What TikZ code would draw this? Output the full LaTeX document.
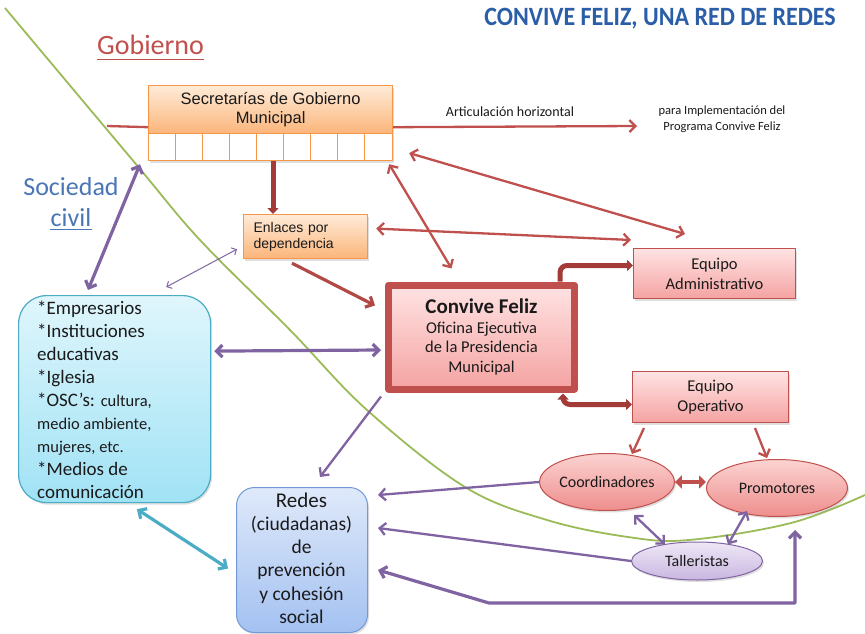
\documentclass[tikz,border=0pt]{standalone}
\usepackage{fontspec}
\setmainfont{Carlito}
\newfontfamily\arialf{Liberation Sans}
\usetikzlibrary{arrows.meta,shadows,shapes.geometric,calc}
\definecolor{cfred}{HTML}{C0504D}
\definecolor{dkred}{HTML}{A33B38}
\definecolor{orb}{HTML}{F79646}
\definecolor{ortop}{HTML}{FFEBD8}
\definecolor{orbot}{HTML}{FBB57A}
\definecolor{pktop}{HTML}{FFE3E3}
\definecolor{pkbot}{HTML}{F4A3A2}
\definecolor{elltop}{HTML}{FBD3D2}
\definecolor{ellbot}{HTML}{EE8E8C}
\definecolor{purp}{HTML}{8064A2}
\definecolor{lavtop}{HTML}{EFE8F7}
\definecolor{lavbot}{HTML}{C9B6E0}
\definecolor{tealc}{HTML}{4BACC6}
\definecolor{cytop}{HTML}{E0F6FC}
\definecolor{cybot}{HTML}{A0E2F5}
\definecolor{bltop}{HTML}{DFE9FA}
\definecolor{blbot}{HTML}{A3C1F1}
\definecolor{blb}{HTML}{7399D6}
\definecolor{grn}{HTML}{9BBB59}
\definecolor{titleblue}{HTML}{2B5EA8}
\definecolor{socblue}{HTML}{4A76B6}
\definecolor{txt}{HTML}{1A1A1A}
\begin{document}
\begin{tikzpicture}[x=1pt,y=-1pt,line join=round,
  >={Straight Barb[length=6pt,width=12pt]},
  shad/.style={drop shadow={opacity=0.25,shadow xshift=1.5pt,shadow yshift=-2pt}},
  orbox/.style={draw=orb,line width=1.2pt,top color=ortop,bottom color=orbot,inner sep=0pt,text=txt},
  pkbox/.style={draw=cfred,line width=1pt,top color=pktop,bottom color=pkbot,inner sep=0pt,align=center,text=txt,font=\fontsize{16.5}{20}\selectfont,shad},
  ellbox/.style={ellipse,draw=cfred,line width=1pt,top color=elltop,bottom color=ellbot,inner sep=0pt,text=txt,font=\fontsize{16}{19}\selectfont,shad},
  lavbox/.style={ellipse,draw=purp,line width=1pt,top color=lavtop,bottom color=lavbot,inner sep=0pt,text=txt,font=\fontsize{16}{19}\selectfont,shad},
  redl/.style={draw=cfred,line width=2.3pt},
  redk/.style={draw=cfred!92!black,line width=3.2pt},
  blk/.style={draw=dkred,line width=5pt},
  purl/.style={draw=purp,line width=2.3pt},
  purk/.style={draw=purp,line width=3.2pt}]
\useasboundingbox (0,0) rectangle (865,634);
\fill[white] (0,0) rectangle (865,634);

% green boundary curve
\draw[grn,line width=1.8pt] plot[smooth,tension=0.6] coordinates {(5,8) (135,163) (200,240) (290,330) (367,410) (465,487) (547,520) (628,537) (689,540) (791,523) (865,495)};

% titles
\node[font=\bfseries\fontsize{24}{28}\selectfont,text=titleblue,inner sep=0pt] (title) at (660,19) {\scalebox{1}[1.1]{CONVIVE FELIZ, UNA RED DE REDES}};
\node[font=\fontsize{28}{32}\selectfont,text=cfred,anchor=base,inner sep=0pt] (gob) at (150.5,55) {Gobierno};
\draw[cfred,line width=1.3pt] ([yshift=-4.5pt]gob.base west) -- ([yshift=-4.5pt]gob.base east);
\node[font=\fontsize{26}{30}\selectfont,text=socblue,anchor=base,inner sep=0pt] (soc1) at (71,195) {Sociedad};
\node[font=\fontsize{26}{30}\selectfont,text=socblue,anchor=base,inner sep=0pt] (soc2) at (71,226) {civil};
\draw[socblue,line width=1.3pt] ([yshift=-3.5pt]soc2.base west) -- ([yshift=-3.5pt]soc2.base east);

% Secretarias
\node[orbox,shad,minimum width=244pt,minimum height=75pt,anchor=north west] (secall) at (148,85) {};
\node[orbox,minimum width=244pt,minimum height=48pt,anchor=north west,align=center,font=\arialf\fontsize{16.5}{19.5}\selectfont] (sec) at (148,85) {Secretarías de Gobierno\\Municipal};
\node[draw=orb,line width=1.2pt,fill=white,minimum width=244pt,minimum height=27pt,anchor=north west,inner sep=0pt] (cells) at (148,133) {};
\foreach \i in {1,...,8} \draw[orb,line width=1.2pt] ($(cells.north west)+({\i*244/9},0)$) -- ++(0,27);

% horizontal articulation
\coordinate (hl) at (107,126);
\coordinate (hr) at (637,126);
\node[font=\fontsize{14}{16}\selectfont,text=txt] (art) at (510,112) {Articulación horizontal};
\node[font=\fontsize{12.5}{16}\selectfont,align=center,text=txt] (para) at (722,119) {para Implementación del\\Programa Convive Feliz};
\draw[redl] (hl) -- ($(sec.south west)+(0,-7)$);
\draw[redl,->] ($(sec.south east)+(0,-7)$) -- (hr);

% Enlaces
\node[orbox,shad,minimum width=124pt,minimum height=44pt,anchor=north west,align=left,font=\arialf\fontsize{14}{16}\selectfont,text width=104pt] (enl) at (243,214) {Enlaces por\\dependencia};

% Convive Feliz
\node[draw=cfred,line width=7pt,top color=pktop,bottom color=pkbot,minimum width=186pt,minimum height=104pt,inner sep=0pt,align=center,text=txt,font=\fontsize{16.5}{19.5}\selectfont,shad] (cf) at (481.5,337) {{\bfseries\fontsize{21}{24}\selectfont Convive Feliz}\\Oficina Ejecutiva\\de la Presidencia\\Municipal};

% Equipos
\node[pkbox,minimum width=162pt,minimum height=50pt,anchor=north west] (adm) at (633,248) {Equipo\\Administrativo};
\node[pkbox,minimum width=156pt,minimum height=51pt,anchor=north west] (op) at (632,371) {Equipo\\Operativo};

% ellipses
\node[ellbox,minimum width=131pt,minimum height=57pt] (co) at (607,482) {Coordinadores};
\node[ellbox,minimum width=141pt,minimum height=57pt] (pr) at (777,488) {Promotores};
\node[lavbox,minimum width=131pt,minimum height=38pt] (ta) at (697,561) {Talleristas};

% Sociedad civil box
\node[draw=tealc,line width=1.2pt,top color=cytop,bottom color=cybot,rounded corners=28pt,minimum width=192pt,minimum height=207pt,anchor=north west,inner sep=0pt,shad] (soc) at (18,295) {};
\node[anchor=north west,align=left,font=\fontsize{19}{23}\selectfont,inner sep=0pt,text=txt] (soct) at (37,301) {*Empresarios\\*Instituciones\\educativas\\*Iglesia\\*OSC’s: {\fontsize{16.5}{23}\selectfont cultura,}\\{\fontsize{16.5}{23}\selectfont medio ambiente,}\\{\fontsize{16.5}{23}\selectfont mujeres, etc.}\\*Medios de\\comunicación};

% Redes box
\node[draw=blb,line width=1pt,top color=bltop,bottom color=blbot,rounded corners=18pt,minimum width=131pt,minimum height=145pt,anchor=north west,inner sep=0pt,shad] (red) at (236,487) {};
\node[align=center,font=\fontsize{19.5}{23.2}\selectfont,inner sep=0pt,text=txt] (redt) at (301.5,558) {{\fontsize{21}{23.2}\selectfont Redes}\\(ciudadanas)\\de\\prevención\\y cohesión\\social};

% red connectors
\draw[blk,-{Triangle[length=6pt,width=11pt]}] ($(cells.south west)+(125,0)$) -- ($(enl.north west)+(30,0)$);
\draw[redl,<->] ($(cells.south east)+(-4,3)$) -- ($(cf.north)+(-30,-13)$);
\draw[redl,<->] ($(cells.east)+(16,6)$) -- ($(adm.north west)+(52,-14)$);
\draw[redl,<->] ($(enl.east)+(8,-8)$) -- ($(adm.north west)+(-2,-8)$);
\draw[redk,->] ($(enl.south west)+(49,4)$) -- ($(cf.north west)+(-10,24)$);
\draw[blk,rounded corners=7pt,-{Triangle[length=6pt,width=11pt]}] ([xshift=78.5pt]cf.north) |- ($(adm.west)+(0,-8)$);
\draw[blk,rounded corners=7pt,{Triangle[length=6pt,width=11pt]}-{Triangle[length=6pt,width=11pt]}] ([xshift=81.5pt,yshift=-1pt]cf.south) |- ($(op.west)+(0,7.5)$);
\draw[redl,->] ($(op.south west)+(12,5)$) -- ($(co.north)+(25,1)$);
\draw[redl,->] ($(op.south west)+(123,5)$) -- ($(pr.north)+(-10,-1)$);
\draw[draw=cfred,line width=4.5pt,{Triangle[length=7pt,width=13pt]}-{Triangle[length=7pt,width=13pt]}] (co.east) -- (co.east -| pr.west);

% purple connectors
\draw[purk,<->] ($(soc.north west)+(70,-5)$) -- ($(cells.south west)+(-8,3)$);
\draw[draw=purp,line width=1pt,{Straight Barb[length=4pt,width=8pt]}-{Straight Barb[length=4pt,width=8pt]}] ($(soc.north east)+(-45,-8)$) -- ($(enl.south west)+(-6,-10)$);
\draw[purk,<->] ($(soc.east)+(3,-48)$) -- ($(cf.west)+(-4,13)$);
\draw[purl,->] ($(cf.south west)+(-4,4)$) -- ($(red.north)+(18,-10)$);
\draw[draw=tealc,line width=3.2pt,<->] ($(soc.south west)+(119,6)$) -- ($(red.west)+(-8,8.5)$);
\draw[purl,->] (co.west) -- ($(red.east)+(10,-65)$);
\draw[purl,->] (ta.west) -- ($(red.east)+(10,-32)$);
\coordinate (b1) at (489,603);
\coordinate (b2) at (795,603);
\draw[purk,<->] ($(red.east)+(10,10)$) -- (b1) -- (b2) -- ($(pr.south)+(18,13)$);
\draw[purl,<->] ($(co.south)+(27,4)$) -- ($(ta.north)+(-32,3)$);
\draw[purl,<->] ($(pr.south)+(-30,-6)$) -- ($(ta.north)+(31,3)$);
\end{tikzpicture}
\end{document}
